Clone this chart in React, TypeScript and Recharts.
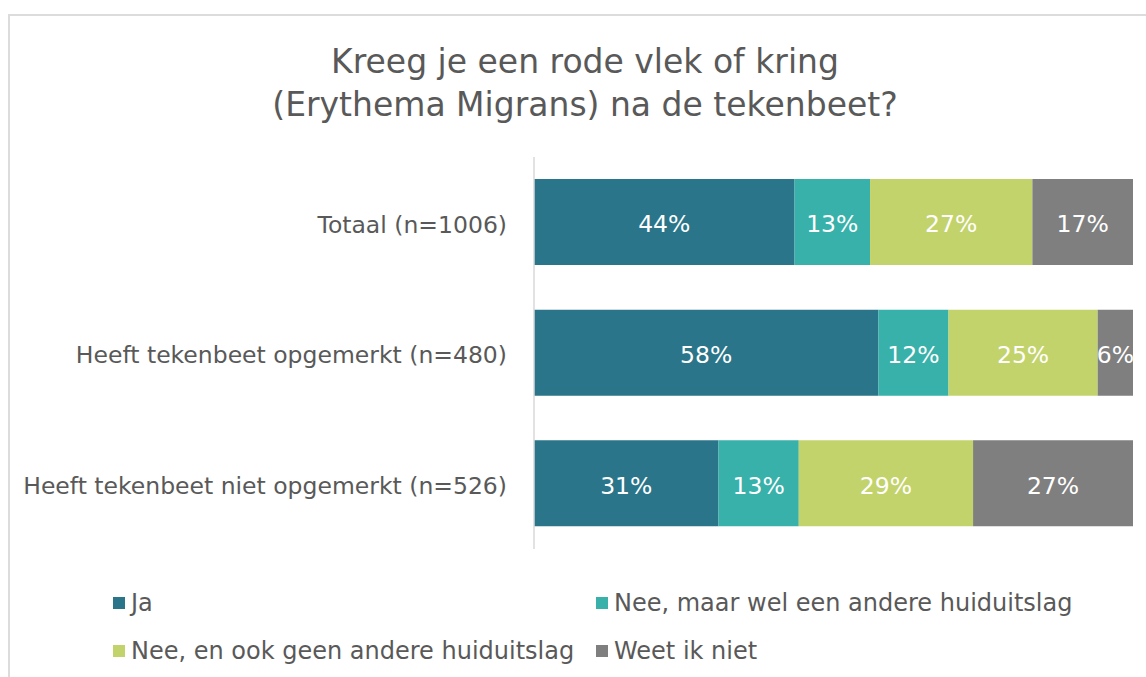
import { Bar, BarChart, LabelList, XAxis, YAxis } from "recharts";

const categories = [
  "Totaal (n=1006)",
  "Heeft tekenbeet opgemerkt (n=480)",
  "Heeft tekenbeet niet opgemerkt (n=526)",
];

const ja = [43.5, 57.5, 30.8];
const neeAnders = [12.6, 11.7, 13.4];
const neeGeen = [27.1, 24.9, 29.1];
const weetNiet = [16.8, 5.9, 26.7];

const seriesNames = [
  "Ja",
  "Nee, maar wel een andere huiduitslag",
  "Nee, en ook geen andere huiduitslag",
  "Weet ik niet",
];
const seriesColors = ["#2a7589", "#37b1a9", "#c3d36b", "#7f7f7f"];
const seriesKeys = ["ja", "neeAnders", "neeGeen", "weetNiet"];

const data = categories.map((name, i) => ({
  name,
  ja: ja[i],
  neeAnders: neeAnders[i],
  neeGeen: neeGeen[i],
  weetNiet: weetNiet[i],
}));

const font = "'DejaVu Sans', Verdana, sans-serif";
const textGray = "#595959";

// legend in two columns, same order as excel puts it
const legendPos = [
  { left: 113, top: 603 },
  { left: 596, top: 603 },
  { left: 113, top: 651 },
  { left: 596, top: 651 },
];

export default function App() {
  return (
    <div
      style={{
        position: "fixed",
        left: 0,
        top: 0,
        width: 1146,
        height: 677,
        overflow: "hidden",
        background: "#fff",
        fontFamily: font,
      }}
    >
      <div
        style={{
          position: "absolute",
          left: 8,
          top: 14,
          width: 1300,
          height: 800,
          borderTop: "2px solid #dcdcdc",
          borderLeft: "2px solid #dcdcdc",
        }}
      />
      <div
        style={{
          position: "absolute",
          left: 0,
          top: 40,
          width: 1170,
          textAlign: "center",
          fontSize: 33,
          lineHeight: "43px",
          color: textGray,
        }}
      >
        Kreeg je een rode vlek of kring
        <br />
        (Erythema Migrans) na de tekenbeet?
      </div>

      <div style={{ position: "absolute", left: 0, top: 0 }}>
        <BarChart
          width={1146}
          height={677}
          data={data}
          layout="vertical"
          margin={{ top: 157, right: 13, bottom: 128, left: 0 }}
        >
          <XAxis type="number" domain={[0, 100]} hide />
          <YAxis
            type="category"
            dataKey="name"
            width={534}
            axisLine={{ stroke: "#d9d9d9", strokeWidth: 1.5 }}
            tickLine={false}
            tickMargin={21}
            tick={{ fill: textGray, fontSize: 23.5, fontFamily: font, dy: 2 }}
          />
          {seriesKeys.map((key, i) => (
            <Bar
              key={key}
              dataKey={key}
              name={seriesNames[i]}
              stackId="a"
              fill={seriesColors[i]}
              barSize={86}
              isAnimationActive={false}
            >
              <LabelList
                dataKey={key}
                position="center"
                fill="#ffffff"
                fontSize={23.5}
                fontFamily={font}
                dy={2}
                formatter={(v: any) => `${Math.round(Number(v))}%`}
              />
            </Bar>
          ))}
        </BarChart>
      </div>

      {seriesNames.map((name, i) => (
        <div
          key={name}
          style={{
            position: "absolute",
            left: legendPos[i].left,
            top: legendPos[i].top - 15,
            height: 30,
            display: "flex",
            alignItems: "center",
            fontSize: 24,
            color: textGray,
            whiteSpace: "nowrap",
          }}
        >
          <span
            style={{
              display: "inline-block",
              width: 12,
              height: 12,
              background: seriesColors[i],
              marginRight: 6,
            }}
          />
          {name}
        </div>
      ))}
    </div>
  );
}
